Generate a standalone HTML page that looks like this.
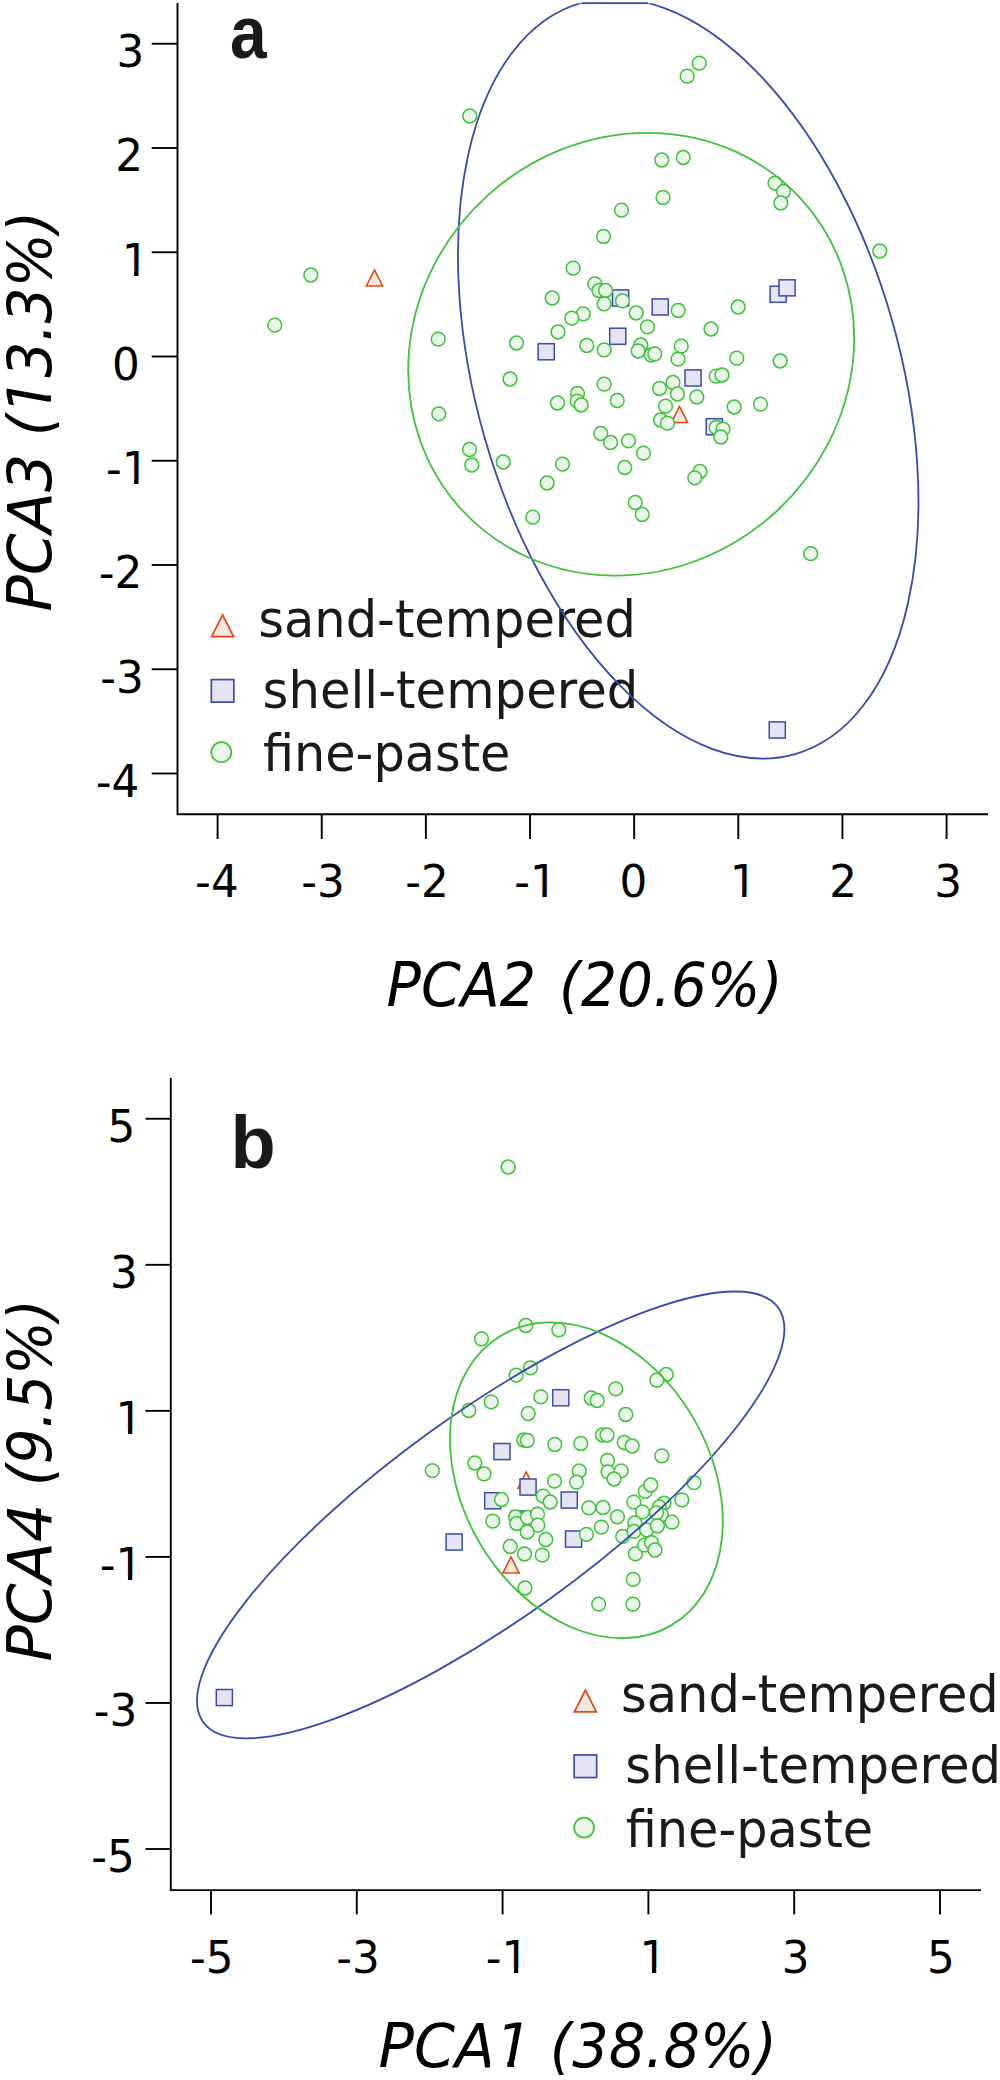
<!DOCTYPE html><html><head><meta charset="utf-8"><title>PCA plots</title><style>html,body{margin:0;padding:0;background:#fff}svg{display:block}text{font-family:"DejaVu Sans", "Liberation Sans", sans-serif}text.lib{font-family:"Liberation Sans","DejaVu Sans",sans-serif}</style></head><body>
<svg width="1000" height="2080" viewBox="0 0 1000 2080">
<rect width="1000" height="2080" fill="#fff"/>
<defs><clipPath id="ca"><rect x="177" y="3.2" width="830" height="811"/></clipPath><clipPath id="k1e"><path d="M-60 -45 H20 V-4.7 H-11.05 V3 H-15.36 V-4.7 H-60 Z"/></clipPath><clipPath id="k1m"><path d="M-60 -45 H20 V-4.7 H2.85 V3 H-1.46 V-4.7 H-60 Z"/></clipPath><clipPath id="k1n"><path d="M-60 -45 H20 V-4.7 H10.73 V3 H6.42 V-4.7 H-60 Z"/></clipPath><clipPath id="kp1"><path clip-rule="evenodd" d="M300 1990H800V2080H300Z M490 2061H507.3V2070H490Z M514 2061H528V2070H514Z"/></clipPath><clipPath id="kp3"><path clip-rule="evenodd" d="M-20 -70H420V20H-20Z M196.5 -6.3H208V2H196.5Z M214.1 -6.3H232V2H214.1Z"/></clipPath></defs>
<g id="panel-a">
<polygon points="374.5,269.9 366.3,286.1 382.7,286.1" fill="#f5e8e0" stroke="#e4460f" stroke-width="1.5" stroke-linejoin="miter"/>
<polygon points="679.5,406.4 671.3,422.6 687.7,422.6" fill="#f5e8e0" stroke="#e4460f" stroke-width="1.5" stroke-linejoin="miter"/>
<rect x="612.5" y="289.9" width="16.1" height="16.1" fill="#e4e4f2" stroke="#3a4cae" stroke-width="1.5"/>
<rect x="652.2" y="298.9" width="16.1" height="16.1" fill="#e4e4f2" stroke="#3a4cae" stroke-width="1.5"/>
<rect x="609.7" y="328.2" width="16.1" height="16.1" fill="#e4e4f2" stroke="#3a4cae" stroke-width="1.5"/>
<rect x="538.2" y="343.7" width="16.1" height="16.1" fill="#e4e4f2" stroke="#3a4cae" stroke-width="1.5"/>
<rect x="685.0" y="369.9" width="16.1" height="16.1" fill="#e4e4f2" stroke="#3a4cae" stroke-width="1.5"/>
<rect x="706.2" y="418.7" width="16.1" height="16.1" fill="#e4e4f2" stroke="#3a4cae" stroke-width="1.5"/>
<rect x="770.1" y="286.2" width="16.1" height="16.1" fill="#e4e4f2" stroke="#3a4cae" stroke-width="1.5"/>
<rect x="779.0" y="279.8" width="16.1" height="16.1" fill="#e4e4f2" stroke="#3a4cae" stroke-width="1.5"/>
<rect x="769.2" y="721.9" width="16.1" height="16.1" fill="#e4e4f2" stroke="#3a4cae" stroke-width="1.5"/>
<circle cx="469.8" cy="116.0" r="6.9" fill="#eaf6ea" stroke="#3ec238" stroke-width="1.5"/>
<circle cx="621.5" cy="210.2" r="6.9" fill="#eaf6ea" stroke="#3ec238" stroke-width="1.5"/>
<circle cx="603.5" cy="236.5" r="6.9" fill="#eaf6ea" stroke="#3ec238" stroke-width="1.5"/>
<circle cx="699.2" cy="63.2" r="6.9" fill="#eaf6ea" stroke="#3ec238" stroke-width="1.5"/>
<circle cx="687.2" cy="76.2" r="6.9" fill="#eaf6ea" stroke="#3ec238" stroke-width="1.5"/>
<circle cx="661.8" cy="160.0" r="6.9" fill="#eaf6ea" stroke="#3ec238" stroke-width="1.5"/>
<circle cx="683.2" cy="157.5" r="6.9" fill="#eaf6ea" stroke="#3ec238" stroke-width="1.5"/>
<circle cx="663.0" cy="197.5" r="6.9" fill="#eaf6ea" stroke="#3ec238" stroke-width="1.5"/>
<circle cx="775.0" cy="183.2" r="6.9" fill="#eaf6ea" stroke="#3ec238" stroke-width="1.5"/>
<circle cx="783.5" cy="191.5" r="6.9" fill="#eaf6ea" stroke="#3ec238" stroke-width="1.5"/>
<circle cx="780.8" cy="203.0" r="6.9" fill="#eaf6ea" stroke="#3ec238" stroke-width="1.5"/>
<circle cx="879.8" cy="251.0" r="6.9" fill="#eaf6ea" stroke="#3ec238" stroke-width="1.5"/>
<circle cx="310.8" cy="275.0" r="6.9" fill="#eaf6ea" stroke="#3ec238" stroke-width="1.5"/>
<circle cx="274.8" cy="325.2" r="6.9" fill="#eaf6ea" stroke="#3ec238" stroke-width="1.5"/>
<circle cx="438.2" cy="339.2" r="6.9" fill="#eaf6ea" stroke="#3ec238" stroke-width="1.5"/>
<circle cx="438.8" cy="413.8" r="6.9" fill="#eaf6ea" stroke="#3ec238" stroke-width="1.5"/>
<circle cx="469.5" cy="449.5" r="6.9" fill="#eaf6ea" stroke="#3ec238" stroke-width="1.5"/>
<circle cx="471.8" cy="465.0" r="6.9" fill="#eaf6ea" stroke="#3ec238" stroke-width="1.5"/>
<circle cx="573.2" cy="268.2" r="6.9" fill="#eaf6ea" stroke="#3ec238" stroke-width="1.5"/>
<circle cx="594.8" cy="283.8" r="6.9" fill="#eaf6ea" stroke="#3ec238" stroke-width="1.5"/>
<circle cx="599.0" cy="290.5" r="6.9" fill="#eaf6ea" stroke="#3ec238" stroke-width="1.5"/>
<circle cx="605.5" cy="290.5" r="6.9" fill="#eaf6ea" stroke="#3ec238" stroke-width="1.5"/>
<circle cx="552.2" cy="298.0" r="6.9" fill="#eaf6ea" stroke="#3ec238" stroke-width="1.5"/>
<circle cx="604.2" cy="303.8" r="6.9" fill="#eaf6ea" stroke="#3ec238" stroke-width="1.5"/>
<circle cx="622.5" cy="300.8" r="6.9" fill="#eaf6ea" stroke="#3ec238" stroke-width="1.5"/>
<circle cx="636.2" cy="313.0" r="6.9" fill="#eaf6ea" stroke="#3ec238" stroke-width="1.5"/>
<circle cx="678.2" cy="310.5" r="6.9" fill="#eaf6ea" stroke="#3ec238" stroke-width="1.5"/>
<circle cx="583.2" cy="313.8" r="6.9" fill="#eaf6ea" stroke="#3ec238" stroke-width="1.5"/>
<circle cx="571.8" cy="318.2" r="6.9" fill="#eaf6ea" stroke="#3ec238" stroke-width="1.5"/>
<circle cx="647.5" cy="326.8" r="6.9" fill="#eaf6ea" stroke="#3ec238" stroke-width="1.5"/>
<circle cx="558.0" cy="332.0" r="6.9" fill="#eaf6ea" stroke="#3ec238" stroke-width="1.5"/>
<circle cx="711.0" cy="329.0" r="6.9" fill="#eaf6ea" stroke="#3ec238" stroke-width="1.5"/>
<circle cx="516.5" cy="343.0" r="6.9" fill="#eaf6ea" stroke="#3ec238" stroke-width="1.5"/>
<circle cx="586.8" cy="345.5" r="6.9" fill="#eaf6ea" stroke="#3ec238" stroke-width="1.5"/>
<circle cx="604.2" cy="349.8" r="6.9" fill="#eaf6ea" stroke="#3ec238" stroke-width="1.5"/>
<circle cx="640.8" cy="345.0" r="6.9" fill="#eaf6ea" stroke="#3ec238" stroke-width="1.5"/>
<circle cx="638.2" cy="351.0" r="6.9" fill="#eaf6ea" stroke="#3ec238" stroke-width="1.5"/>
<circle cx="651.2" cy="355.0" r="6.9" fill="#eaf6ea" stroke="#3ec238" stroke-width="1.5"/>
<circle cx="654.8" cy="353.8" r="6.9" fill="#eaf6ea" stroke="#3ec238" stroke-width="1.5"/>
<circle cx="681.2" cy="346.2" r="6.9" fill="#eaf6ea" stroke="#3ec238" stroke-width="1.5"/>
<circle cx="678.0" cy="359.2" r="6.9" fill="#eaf6ea" stroke="#3ec238" stroke-width="1.5"/>
<circle cx="510.0" cy="379.0" r="6.9" fill="#eaf6ea" stroke="#3ec238" stroke-width="1.5"/>
<circle cx="604.2" cy="384.2" r="6.9" fill="#eaf6ea" stroke="#3ec238" stroke-width="1.5"/>
<circle cx="673.0" cy="382.5" r="6.9" fill="#eaf6ea" stroke="#3ec238" stroke-width="1.5"/>
<circle cx="659.5" cy="388.5" r="6.9" fill="#eaf6ea" stroke="#3ec238" stroke-width="1.5"/>
<circle cx="677.5" cy="394.0" r="6.9" fill="#eaf6ea" stroke="#3ec238" stroke-width="1.5"/>
<circle cx="696.8" cy="397.0" r="6.9" fill="#eaf6ea" stroke="#3ec238" stroke-width="1.5"/>
<circle cx="716.2" cy="376.2" r="6.9" fill="#eaf6ea" stroke="#3ec238" stroke-width="1.5"/>
<circle cx="722.0" cy="375.0" r="6.9" fill="#eaf6ea" stroke="#3ec238" stroke-width="1.5"/>
<circle cx="577.5" cy="393.5" r="6.9" fill="#eaf6ea" stroke="#3ec238" stroke-width="1.5"/>
<circle cx="577.2" cy="401.2" r="6.9" fill="#eaf6ea" stroke="#3ec238" stroke-width="1.5"/>
<circle cx="581.2" cy="405.0" r="6.9" fill="#eaf6ea" stroke="#3ec238" stroke-width="1.5"/>
<circle cx="557.5" cy="403.0" r="6.9" fill="#eaf6ea" stroke="#3ec238" stroke-width="1.5"/>
<circle cx="617.2" cy="400.5" r="6.9" fill="#eaf6ea" stroke="#3ec238" stroke-width="1.5"/>
<circle cx="665.5" cy="406.2" r="6.9" fill="#eaf6ea" stroke="#3ec238" stroke-width="1.5"/>
<circle cx="660.5" cy="420.0" r="6.9" fill="#eaf6ea" stroke="#3ec238" stroke-width="1.5"/>
<circle cx="667.5" cy="423.2" r="6.9" fill="#eaf6ea" stroke="#3ec238" stroke-width="1.5"/>
<circle cx="600.8" cy="433.5" r="6.9" fill="#eaf6ea" stroke="#3ec238" stroke-width="1.5"/>
<circle cx="610.5" cy="442.5" r="6.9" fill="#eaf6ea" stroke="#3ec238" stroke-width="1.5"/>
<circle cx="628.5" cy="440.8" r="6.9" fill="#eaf6ea" stroke="#3ec238" stroke-width="1.5"/>
<circle cx="643.5" cy="453.2" r="6.9" fill="#eaf6ea" stroke="#3ec238" stroke-width="1.5"/>
<circle cx="503.2" cy="462.0" r="6.9" fill="#eaf6ea" stroke="#3ec238" stroke-width="1.5"/>
<circle cx="562.5" cy="464.2" r="6.9" fill="#eaf6ea" stroke="#3ec238" stroke-width="1.5"/>
<circle cx="624.8" cy="467.5" r="6.9" fill="#eaf6ea" stroke="#3ec238" stroke-width="1.5"/>
<circle cx="700.0" cy="471.5" r="6.9" fill="#eaf6ea" stroke="#3ec238" stroke-width="1.5"/>
<circle cx="694.8" cy="477.8" r="6.9" fill="#eaf6ea" stroke="#3ec238" stroke-width="1.5"/>
<circle cx="547.2" cy="483.0" r="6.9" fill="#eaf6ea" stroke="#3ec238" stroke-width="1.5"/>
<circle cx="716.2" cy="427.5" r="6.9" fill="#eaf6ea" stroke="#3ec238" stroke-width="1.5"/>
<circle cx="723.0" cy="429.2" r="6.9" fill="#eaf6ea" stroke="#3ec238" stroke-width="1.5"/>
<circle cx="720.8" cy="437.0" r="6.9" fill="#eaf6ea" stroke="#3ec238" stroke-width="1.5"/>
<circle cx="736.8" cy="358.2" r="6.9" fill="#eaf6ea" stroke="#3ec238" stroke-width="1.5"/>
<circle cx="734.2" cy="407.0" r="6.9" fill="#eaf6ea" stroke="#3ec238" stroke-width="1.5"/>
<circle cx="738.2" cy="307.0" r="6.9" fill="#eaf6ea" stroke="#3ec238" stroke-width="1.5"/>
<circle cx="780.2" cy="361.0" r="6.9" fill="#eaf6ea" stroke="#3ec238" stroke-width="1.5"/>
<circle cx="760.5" cy="404.2" r="6.9" fill="#eaf6ea" stroke="#3ec238" stroke-width="1.5"/>
<circle cx="532.8" cy="517.2" r="6.9" fill="#eaf6ea" stroke="#3ec238" stroke-width="1.5"/>
<circle cx="635.2" cy="502.5" r="6.9" fill="#eaf6ea" stroke="#3ec238" stroke-width="1.5"/>
<circle cx="642.2" cy="514.5" r="6.9" fill="#eaf6ea" stroke="#3ec238" stroke-width="1.5"/>
<circle cx="810.7" cy="553.7" r="6.9" fill="#eaf6ea" stroke="#3ec238" stroke-width="1.5"/>
<g stroke="#000" stroke-width="1.9" fill="none">
<path d="M177.5 3 V814.3 H988"/>
<line x1="151.7" y1="43.75" x2="177.5" y2="43.75"/>
<line x1="151.7" y1="148.00" x2="177.5" y2="148.00"/>
<line x1="151.7" y1="252.25" x2="177.5" y2="252.25"/>
<line x1="151.7" y1="356.50" x2="177.5" y2="356.50"/>
<line x1="151.7" y1="460.75" x2="177.5" y2="460.75"/>
<line x1="151.7" y1="565.00" x2="177.5" y2="565.00"/>
<line x1="151.7" y1="669.25" x2="177.5" y2="669.25"/>
<line x1="151.7" y1="773.50" x2="177.5" y2="773.50"/>
<line x1="217.60" y1="814.3" x2="217.60" y2="839"/>
<line x1="321.74" y1="814.3" x2="321.74" y2="839"/>
<line x1="425.88" y1="814.3" x2="425.88" y2="839"/>
<line x1="530.02" y1="814.3" x2="530.02" y2="839"/>
<line x1="634.16" y1="814.3" x2="634.16" y2="839"/>
<line x1="738.30" y1="814.3" x2="738.30" y2="839"/>
<line x1="842.44" y1="814.3" x2="842.44" y2="839"/>
<line x1="946.58" y1="814.3" x2="946.58" y2="839"/>
</g>
<g transform="translate(144.4 67.2)"><text x="0" y="0" font-size="43.7" text-anchor="end" fill="#000">3</text></g>
<g transform="translate(143.0 171.4)"><text x="0" y="0" font-size="43.7" text-anchor="end" fill="#000">2</text></g>
<g transform="translate(149.5 275.6)" clip-path="url(#k1e)"><text x="0" y="0" font-size="43.7" text-anchor="end" fill="#000">1</text></g>
<g transform="translate(139.8 379.9)"><text x="0" y="0" font-size="43.7" text-anchor="end" fill="#000">0</text></g>
<g transform="translate(149.5 484.1)" clip-path="url(#k1e)"><text x="0" y="0" font-size="43.7" text-anchor="end" fill="#000">-1</text></g>
<g transform="translate(142.4 588.4)"><text x="0" y="0" font-size="43.7" text-anchor="end" fill="#000">-2</text></g>
<g transform="translate(143.9 692.6)"><text x="0" y="0" font-size="43.7" text-anchor="end" fill="#000">-3</text></g>
<g transform="translate(139.4 796.9)"><text x="0" y="0" font-size="43.7" text-anchor="end" fill="#000">-4</text></g>
<g transform="translate(216.9 897.4)"><text x="0" y="0" font-size="43.7" text-anchor="middle" fill="#000">-4</text></g>
<g transform="translate(323.1 897.4)"><text x="0" y="0" font-size="43.7" text-anchor="middle" fill="#000">-3</text></g>
<g transform="translate(427.1 897.4)"><text x="0" y="0" font-size="43.7" text-anchor="middle" fill="#000">-2</text></g>
<g transform="translate(536.0 897.4)" clip-path="url(#k1n)"><text x="0" y="0" font-size="43.7" text-anchor="middle" fill="#000">-1</text></g>
<g transform="translate(633.4 897.4)"><text x="0" y="0" font-size="43.7" text-anchor="middle" fill="#000">0</text></g>
<g transform="translate(743.6 897.4)" clip-path="url(#k1m)"><text x="0" y="0" font-size="43.7" text-anchor="middle" fill="#000">1</text></g>
<g transform="translate(843.2 897.4)"><text x="0" y="0" font-size="43.7" text-anchor="middle" fill="#000">2</text></g>
<g transform="translate(948.1 897.4)"><text x="0" y="0" font-size="43.7" text-anchor="middle" fill="#000">3</text></g>
<text x="386.6" y="1006.2" font-size="61" text-anchor="start" fill="#000" font-style="italic" textLength="149.5" lengthAdjust="spacingAndGlyphs">PCA2 </text>
<text x="559.1" y="1006.2" font-size="61" text-anchor="start" fill="#000" font-style="italic" textLength="223.4" lengthAdjust="spacingAndGlyphs">(20.6%)</text>
<g transform="translate(51.3 609.5) rotate(-90)"><text x="-2.0" y="0" font-size="61" text-anchor="start" fill="#000" font-style="italic" textLength="157.8" lengthAdjust="spacingAndGlyphs">PCA3 </text><g clip-path="url(#kp3)"><text x="173.3" y="0" font-size="61" text-anchor="start" fill="#000" font-style="italic" textLength="225.1" lengthAdjust="spacingAndGlyphs">(13.3%)</text></g></g>
<g transform="translate(230 57.5) scale(0.89 1)"><text x="0" y="0" font-size="74" text-anchor="start" fill="#1a1a1a" class="lib" font-weight="bold">a</text></g>
<g transform="translate(0 0)">
<polygon points="222.6,614.8 211.6,636.55 233.6,636.55" fill="#f5e8e0" stroke="#e4460f" stroke-width="1.7"/>
<rect x="211.35" y="679.55" width="22.5" height="22.6" fill="#e4e4f2" stroke="#3a4cae" stroke-width="1.7"/>
<circle cx="221.3" cy="752.2" r="10" fill="#eaf6ea" stroke="#3ec238" stroke-width="1.7"/>
<text x="258.2" y="636.8" font-size="51" text-anchor="start" fill="#1a1a1a" textLength="377.8" lengthAdjust="spacingAndGlyphs">sand-tempered</text>
<text x="262.5" y="708.0" font-size="51" text-anchor="start" fill="#1a1a1a" textLength="375.8" lengthAdjust="spacingAndGlyphs">shell-tempered</text>
<text x="262.9" y="771.2" font-size="51" text-anchor="start" fill="#1a1a1a" textLength="247.5" lengthAdjust="spacingAndGlyphs">fine-paste</text>
</g>
<g clip-path="url(#ca)" fill="none" stroke-width="1.8">
<ellipse cx="688.2" cy="378.5" rx="390.5" ry="212" transform="rotate(-105.9 688.2 378.5)" stroke="#384aad"/>
<ellipse cx="631.2" cy="354.2" rx="230.1" ry="214" transform="rotate(137.8 631.2 354.2)" stroke="#3ec238"/>
</g>
<line x1="581.7" y1="3.2" x2="648" y2="3.2" stroke="#384aad" stroke-width="1.8"/>
</g>
<g id="panel-b">
<polygon points="526.2,1472.0 518.0,1488.2 534.5,1488.2" fill="#f5e8e0" stroke="#e4460f" stroke-width="1.5" stroke-linejoin="miter"/>
<polygon points="511.0,1556.9 502.8,1573.1 519.2,1573.1" fill="#f5e8e0" stroke="#e4460f" stroke-width="1.5" stroke-linejoin="miter"/>
<rect x="552.7" y="1389.7" width="16.1" height="16.1" fill="#e4e4f2" stroke="#3a4cae" stroke-width="1.5"/>
<rect x="493.9" y="1443.5" width="16.1" height="16.1" fill="#e4e4f2" stroke="#3a4cae" stroke-width="1.5"/>
<rect x="520.0" y="1479.0" width="16.1" height="16.1" fill="#e4e4f2" stroke="#3a4cae" stroke-width="1.5"/>
<rect x="484.7" y="1492.7" width="16.1" height="16.1" fill="#e4e4f2" stroke="#3a4cae" stroke-width="1.5"/>
<rect x="561.2" y="1492.0" width="16.1" height="16.1" fill="#e4e4f2" stroke="#3a4cae" stroke-width="1.5"/>
<rect x="511.2" y="1511.0" width="16.1" height="16.1" fill="#e4e4f2" stroke="#3a4cae" stroke-width="1.5"/>
<rect x="446.1" y="1534.0" width="16.1" height="16.1" fill="#e4e4f2" stroke="#3a4cae" stroke-width="1.5"/>
<rect x="565.5" y="1531.0" width="16.1" height="16.1" fill="#e4e4f2" stroke="#3a4cae" stroke-width="1.5"/>
<rect x="216.3" y="1689.5" width="16.1" height="16.1" fill="#e4e4f2" stroke="#3a4cae" stroke-width="1.5"/>
<circle cx="508.2" cy="1167.0" r="6.9" fill="#eaf6ea" stroke="#3ec238" stroke-width="1.5"/>
<circle cx="481.5" cy="1338.8" r="6.9" fill="#eaf6ea" stroke="#3ec238" stroke-width="1.5"/>
<circle cx="525.8" cy="1325.5" r="6.9" fill="#eaf6ea" stroke="#3ec238" stroke-width="1.5"/>
<circle cx="558.8" cy="1329.8" r="6.9" fill="#eaf6ea" stroke="#3ec238" stroke-width="1.5"/>
<circle cx="530.5" cy="1367.8" r="6.9" fill="#eaf6ea" stroke="#3ec238" stroke-width="1.5"/>
<circle cx="516.2" cy="1375.2" r="6.9" fill="#eaf6ea" stroke="#3ec238" stroke-width="1.5"/>
<circle cx="491.2" cy="1401.8" r="6.9" fill="#eaf6ea" stroke="#3ec238" stroke-width="1.5"/>
<circle cx="468.8" cy="1410.5" r="6.9" fill="#eaf6ea" stroke="#3ec238" stroke-width="1.5"/>
<circle cx="540.8" cy="1396.8" r="6.9" fill="#eaf6ea" stroke="#3ec238" stroke-width="1.5"/>
<circle cx="528.2" cy="1413.5" r="6.9" fill="#eaf6ea" stroke="#3ec238" stroke-width="1.5"/>
<circle cx="591.2" cy="1398.0" r="6.9" fill="#eaf6ea" stroke="#3ec238" stroke-width="1.5"/>
<circle cx="597.2" cy="1400.5" r="6.9" fill="#eaf6ea" stroke="#3ec238" stroke-width="1.5"/>
<circle cx="615.8" cy="1388.8" r="6.9" fill="#eaf6ea" stroke="#3ec238" stroke-width="1.5"/>
<circle cx="625.8" cy="1414.5" r="6.9" fill="#eaf6ea" stroke="#3ec238" stroke-width="1.5"/>
<circle cx="523.8" cy="1440.0" r="6.9" fill="#eaf6ea" stroke="#3ec238" stroke-width="1.5"/>
<circle cx="527.2" cy="1440.5" r="6.9" fill="#eaf6ea" stroke="#3ec238" stroke-width="1.5"/>
<circle cx="554.8" cy="1444.5" r="6.9" fill="#eaf6ea" stroke="#3ec238" stroke-width="1.5"/>
<circle cx="580.8" cy="1443.5" r="6.9" fill="#eaf6ea" stroke="#3ec238" stroke-width="1.5"/>
<circle cx="602.5" cy="1435.0" r="6.9" fill="#eaf6ea" stroke="#3ec238" stroke-width="1.5"/>
<circle cx="607.0" cy="1435.0" r="6.9" fill="#eaf6ea" stroke="#3ec238" stroke-width="1.5"/>
<circle cx="624.2" cy="1442.5" r="6.9" fill="#eaf6ea" stroke="#3ec238" stroke-width="1.5"/>
<circle cx="632.2" cy="1446.0" r="6.9" fill="#eaf6ea" stroke="#3ec238" stroke-width="1.5"/>
<circle cx="432.3" cy="1470.6" r="6.9" fill="#eaf6ea" stroke="#3ec238" stroke-width="1.5"/>
<circle cx="474.8" cy="1463.0" r="6.9" fill="#eaf6ea" stroke="#3ec238" stroke-width="1.5"/>
<circle cx="484.0" cy="1473.8" r="6.9" fill="#eaf6ea" stroke="#3ec238" stroke-width="1.5"/>
<circle cx="607.5" cy="1460.5" r="6.9" fill="#eaf6ea" stroke="#3ec238" stroke-width="1.5"/>
<circle cx="579.2" cy="1471.0" r="6.9" fill="#eaf6ea" stroke="#3ec238" stroke-width="1.5"/>
<circle cx="608.0" cy="1471.8" r="6.9" fill="#eaf6ea" stroke="#3ec238" stroke-width="1.5"/>
<circle cx="621.2" cy="1470.8" r="6.9" fill="#eaf6ea" stroke="#3ec238" stroke-width="1.5"/>
<circle cx="614.0" cy="1479.0" r="6.9" fill="#eaf6ea" stroke="#3ec238" stroke-width="1.5"/>
<circle cx="554.5" cy="1481.2" r="6.9" fill="#eaf6ea" stroke="#3ec238" stroke-width="1.5"/>
<circle cx="576.5" cy="1482.2" r="6.9" fill="#eaf6ea" stroke="#3ec238" stroke-width="1.5"/>
<circle cx="543.2" cy="1496.2" r="6.9" fill="#eaf6ea" stroke="#3ec238" stroke-width="1.5"/>
<circle cx="550.2" cy="1502.0" r="6.9" fill="#eaf6ea" stroke="#3ec238" stroke-width="1.5"/>
<circle cx="501.5" cy="1499.5" r="6.9" fill="#eaf6ea" stroke="#3ec238" stroke-width="1.5"/>
<circle cx="588.8" cy="1507.8" r="6.9" fill="#eaf6ea" stroke="#3ec238" stroke-width="1.5"/>
<circle cx="603.0" cy="1507.5" r="6.9" fill="#eaf6ea" stroke="#3ec238" stroke-width="1.5"/>
<circle cx="633.8" cy="1502.2" r="6.9" fill="#eaf6ea" stroke="#3ec238" stroke-width="1.5"/>
<circle cx="645.2" cy="1491.4" r="6.9" fill="#eaf6ea" stroke="#3ec238" stroke-width="1.5"/>
<circle cx="650.8" cy="1485.0" r="6.9" fill="#eaf6ea" stroke="#3ec238" stroke-width="1.5"/>
<circle cx="642.5" cy="1511.8" r="6.9" fill="#eaf6ea" stroke="#3ec238" stroke-width="1.5"/>
<circle cx="617.4" cy="1516.8" r="6.9" fill="#eaf6ea" stroke="#3ec238" stroke-width="1.5"/>
<circle cx="634.8" cy="1523.0" r="6.9" fill="#eaf6ea" stroke="#3ec238" stroke-width="1.5"/>
<circle cx="492.8" cy="1521.2" r="6.9" fill="#eaf6ea" stroke="#3ec238" stroke-width="1.5"/>
<circle cx="515.5" cy="1517.0" r="6.9" fill="#eaf6ea" stroke="#3ec238" stroke-width="1.5"/>
<circle cx="516.8" cy="1523.5" r="6.9" fill="#eaf6ea" stroke="#3ec238" stroke-width="1.5"/>
<circle cx="527.5" cy="1517.5" r="6.9" fill="#eaf6ea" stroke="#3ec238" stroke-width="1.5"/>
<circle cx="537.5" cy="1514.2" r="6.9" fill="#eaf6ea" stroke="#3ec238" stroke-width="1.5"/>
<circle cx="537.8" cy="1525.2" r="6.9" fill="#eaf6ea" stroke="#3ec238" stroke-width="1.5"/>
<circle cx="527.2" cy="1532.0" r="6.9" fill="#eaf6ea" stroke="#3ec238" stroke-width="1.5"/>
<circle cx="545.8" cy="1539.5" r="6.9" fill="#eaf6ea" stroke="#3ec238" stroke-width="1.5"/>
<circle cx="586.4" cy="1534.4" r="6.9" fill="#eaf6ea" stroke="#3ec238" stroke-width="1.5"/>
<circle cx="601.4" cy="1527.1" r="6.9" fill="#eaf6ea" stroke="#3ec238" stroke-width="1.5"/>
<circle cx="622.7" cy="1536.4" r="6.9" fill="#eaf6ea" stroke="#3ec238" stroke-width="1.5"/>
<circle cx="634.0" cy="1531.3" r="6.9" fill="#eaf6ea" stroke="#3ec238" stroke-width="1.5"/>
<circle cx="646.6" cy="1530.0" r="6.9" fill="#eaf6ea" stroke="#3ec238" stroke-width="1.5"/>
<circle cx="510.2" cy="1546.5" r="6.9" fill="#eaf6ea" stroke="#3ec238" stroke-width="1.5"/>
<circle cx="524.5" cy="1554.0" r="6.9" fill="#eaf6ea" stroke="#3ec238" stroke-width="1.5"/>
<circle cx="542.2" cy="1555.2" r="6.9" fill="#eaf6ea" stroke="#3ec238" stroke-width="1.5"/>
<circle cx="635.4" cy="1553.9" r="6.9" fill="#eaf6ea" stroke="#3ec238" stroke-width="1.5"/>
<circle cx="644.5" cy="1545.2" r="6.9" fill="#eaf6ea" stroke="#3ec238" stroke-width="1.5"/>
<circle cx="651.5" cy="1542.6" r="6.9" fill="#eaf6ea" stroke="#3ec238" stroke-width="1.5"/>
<circle cx="525.0" cy="1588.0" r="6.9" fill="#eaf6ea" stroke="#3ec238" stroke-width="1.5"/>
<circle cx="633.2" cy="1579.4" r="6.9" fill="#eaf6ea" stroke="#3ec238" stroke-width="1.5"/>
<circle cx="598.7" cy="1604.2" r="6.9" fill="#eaf6ea" stroke="#3ec238" stroke-width="1.5"/>
<circle cx="632.9" cy="1604.2" r="6.9" fill="#eaf6ea" stroke="#3ec238" stroke-width="1.5"/>
<circle cx="666.2" cy="1374.5" r="6.9" fill="#eaf6ea" stroke="#3ec238" stroke-width="1.5"/>
<circle cx="656.8" cy="1380.2" r="6.9" fill="#eaf6ea" stroke="#3ec238" stroke-width="1.5"/>
<circle cx="661.8" cy="1455.8" r="6.9" fill="#eaf6ea" stroke="#3ec238" stroke-width="1.5"/>
<circle cx="694.0" cy="1482.6" r="6.9" fill="#eaf6ea" stroke="#3ec238" stroke-width="1.5"/>
<circle cx="681.8" cy="1499.8" r="6.9" fill="#eaf6ea" stroke="#3ec238" stroke-width="1.5"/>
<circle cx="664.0" cy="1503.1" r="6.9" fill="#eaf6ea" stroke="#3ec238" stroke-width="1.5"/>
<circle cx="659.2" cy="1507.0" r="6.9" fill="#eaf6ea" stroke="#3ec238" stroke-width="1.5"/>
<circle cx="661.5" cy="1514.8" r="6.9" fill="#eaf6ea" stroke="#3ec238" stroke-width="1.5"/>
<circle cx="656.5" cy="1512.8" r="6.9" fill="#eaf6ea" stroke="#3ec238" stroke-width="1.5"/>
<circle cx="672.0" cy="1522.2" r="6.9" fill="#eaf6ea" stroke="#3ec238" stroke-width="1.5"/>
<circle cx="657.4" cy="1525.8" r="6.9" fill="#eaf6ea" stroke="#3ec238" stroke-width="1.5"/>
<circle cx="655.0" cy="1550.0" r="6.9" fill="#eaf6ea" stroke="#3ec238" stroke-width="1.5"/>
<g stroke="#000" stroke-width="1.9" fill="none">
<path d="M170.8 1078 V1890.1 H981"/>
<line x1="145.5" y1="1118.75" x2="170.8" y2="1118.75"/>
<line x1="145.5" y1="1264.80" x2="170.8" y2="1264.80"/>
<line x1="145.5" y1="1410.85" x2="170.8" y2="1410.85"/>
<line x1="145.5" y1="1556.90" x2="170.8" y2="1556.90"/>
<line x1="145.5" y1="1702.95" x2="170.8" y2="1702.95"/>
<line x1="145.5" y1="1849.00" x2="170.8" y2="1849.00"/>
<line x1="211.00" y1="1890.1" x2="211.00" y2="1914.4"/>
<line x1="356.80" y1="1890.1" x2="356.80" y2="1914.4"/>
<line x1="502.60" y1="1890.1" x2="502.60" y2="1914.4"/>
<line x1="648.40" y1="1890.1" x2="648.40" y2="1914.4"/>
<line x1="794.20" y1="1890.1" x2="794.20" y2="1914.4"/>
<line x1="940.00" y1="1890.1" x2="940.00" y2="1914.4"/>
</g>
<g transform="translate(135.3 1142.2)"><text x="0" y="0" font-size="43.7" text-anchor="end" fill="#000">5</text></g>
<g transform="translate(137.7 1288.2)"><text x="0" y="0" font-size="43.7" text-anchor="end" fill="#000">3</text></g>
<g transform="translate(143.3 1434.2)" clip-path="url(#k1e)"><text x="0" y="0" font-size="43.7" text-anchor="end" fill="#000">1</text></g>
<g transform="translate(143.3 1580.3)" clip-path="url(#k1e)"><text x="0" y="0" font-size="43.7" text-anchor="end" fill="#000">-1</text></g>
<g transform="translate(137.3 1726.4)"><text x="0" y="0" font-size="43.7" text-anchor="end" fill="#000">-3</text></g>
<g transform="translate(134.9 1872.4)"><text x="0" y="0" font-size="43.7" text-anchor="end" fill="#000">-5</text></g>
<g transform="translate(211.7 1973.0)"><text x="0" y="0" font-size="43.7" text-anchor="middle" fill="#000">-5</text></g>
<g transform="translate(358.0 1973.0)"><text x="0" y="0" font-size="43.7" text-anchor="middle" fill="#000">-3</text></g>
<g transform="translate(507.6 1973.0)" clip-path="url(#k1n)"><text x="0" y="0" font-size="43.7" text-anchor="middle" fill="#000">-1</text></g>
<g transform="translate(653.4 1973.0)" clip-path="url(#k1m)"><text x="0" y="0" font-size="43.7" text-anchor="middle" fill="#000">1</text></g>
<g transform="translate(795.7 1973.0)"><text x="0" y="0" font-size="43.7" text-anchor="middle" fill="#000">3</text></g>
<g transform="translate(941.0 1973.0)"><text x="0" y="0" font-size="43.7" text-anchor="middle" fill="#000">5</text></g>
<g clip-path="url(#kp1)"><text x="378.6" y="2067" font-size="61" text-anchor="start" fill="#000" font-style="italic" textLength="153.9" lengthAdjust="spacingAndGlyphs">PCA1 </text></g>
<text x="549.8" y="2067" font-size="61" text-anchor="start" fill="#000" font-style="italic" textLength="227.0" lengthAdjust="spacingAndGlyphs">(38.8%)</text>
<g transform="translate(51.3 1659.5) rotate(-90)"><text x="-2.0" y="0" font-size="61" text-anchor="start" fill="#000" font-style="italic" textLength="157.8" lengthAdjust="spacingAndGlyphs">PCA4 </text><text x="173.4" y="0" font-size="61" text-anchor="start" fill="#000" font-style="italic" textLength="186.7" lengthAdjust="spacingAndGlyphs">(9.5%)</text></g>
<g transform="translate(230.6 1168) scale(1.0 1)"><text x="0" y="0" font-size="74" text-anchor="start" fill="#1a1a1a" class="lib" font-weight="bold">b</text></g>
<g transform="translate(362.8 1075.4)">
<polygon points="222.6,614.8 211.6,636.55 233.6,636.55" fill="#f5e8e0" stroke="#e4460f" stroke-width="1.7"/>
<rect x="211.35" y="679.55" width="22.5" height="22.6" fill="#e4e4f2" stroke="#3a4cae" stroke-width="1.7"/>
<circle cx="221.3" cy="752.2" r="10" fill="#eaf6ea" stroke="#3ec238" stroke-width="1.7"/>
<text x="258.2" y="636.8" font-size="51" text-anchor="start" fill="#1a1a1a" textLength="377.8" lengthAdjust="spacingAndGlyphs">sand-tempered</text>
<text x="262.5" y="708.0" font-size="51" text-anchor="start" fill="#1a1a1a" textLength="375.8" lengthAdjust="spacingAndGlyphs">shell-tempered</text>
<text x="262.9" y="771.2" font-size="51" text-anchor="start" fill="#1a1a1a" textLength="247.5" lengthAdjust="spacingAndGlyphs">fine-paste</text>
</g>
<g fill="none" stroke-width="1.8">
<ellipse cx="490.7" cy="1514.9" rx="354.4" ry="102.7" transform="rotate(144.2 490.7 1514.9)" stroke="#384aad"/>
<ellipse cx="586.4" cy="1480.3" rx="168" ry="123.8" transform="rotate(-120.3 586.4 1480.3)" stroke="#3ec238"/>
</g>
</g>
</svg></body></html>
